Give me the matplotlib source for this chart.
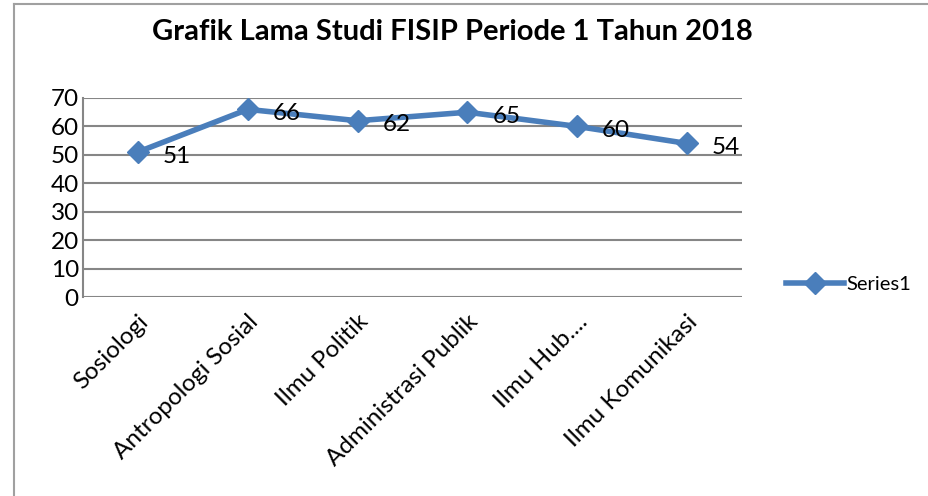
import matplotlib
matplotlib.use("Agg")
import matplotlib.pyplot as plt
from matplotlib.lines import Line2D

categories = ["Sosiologi", "Antropologi Sosial", "Ilmu Politik", "Administrasi Publik", "Ilmu Hub....", "Ilmu Komunikasi"]
values = [51, 66, 62, 65, 60, 54]
yticks = [0, 10, 20, 30, 40, 50, 60, 70]
series_name = "Series1"
title = "Grafik Lama Studi FISIP Periode 1 Tahun 2018"

plt.rcParams['font.family'] = ['Lato', 'DejaVu Sans']
W, H = 929, 496
fig = plt.figure(figsize=(W/100, H/100), dpi=100)

# outer chart border: only left and top edges fall inside the image
border = '#a0a0a0'
fig.lines.append(Line2D([14/W, 14/W], [0, 1-4/H], transform=fig.transFigure, color=border, linewidth=1.5))
fig.lines.append(Line2D([14/W, 1], [1-4/H, 1-4/H], transform=fig.transFigure, color=border, linewidth=1.5))

ax = fig.add_axes([83/W, 1-297/H, (742-83)/W, (297-98)/H])
color = '#4a7ebb'
x = list(range(len(categories)))
line, = ax.plot(x, values, color=color, linewidth=4, marker='D', markersize=11,
                markeredgecolor=color, label=series_name, zorder=3)
fs = 17.5
for xi, v in zip(x, values):
    ax.annotate(str(v), (xi, v), xytext=(18, -3), textcoords='offset points',
                ha='left', va='center', fontsize=fs, color='black', zorder=4)

ax.set_xlim(-0.5, len(categories) - 0.5)
ax.set_ylim(0, 70)
ax.set_yticks(yticks)
ax.set_yticklabels([str(t) for t in yticks], fontsize=fs)
ax.yaxis.grid(True, color='#868686', linewidth=1.5)
ax.set_axisbelow(True)
ax.tick_params(axis='y', length=0, pad=3)
ax.tick_params(axis='x', length=0, pad=10)
ax.set_xticks(x)
ax.set_xticklabels(categories, rotation=45, ha='right', rotation_mode='anchor', fontsize=fs)
for s in ['top', 'right', 'bottom']:
    ax.spines[s].set_visible(False)
ax.spines['left'].set_color('#868686')
ax.spines['left'].set_linewidth(1.5)

fig.text(452/W, 1-32/H, title, ha='center', va='center', fontsize=21, fontweight='bold')

fig.legend(handles=[line], loc='center left', bbox_to_anchor=(778/W, 1-284/H),
           frameon=False, fontsize=14.5, handlelength=2.9, handletextpad=0.1, borderaxespad=0)

fig.savefig("out.png", dpi=100)
